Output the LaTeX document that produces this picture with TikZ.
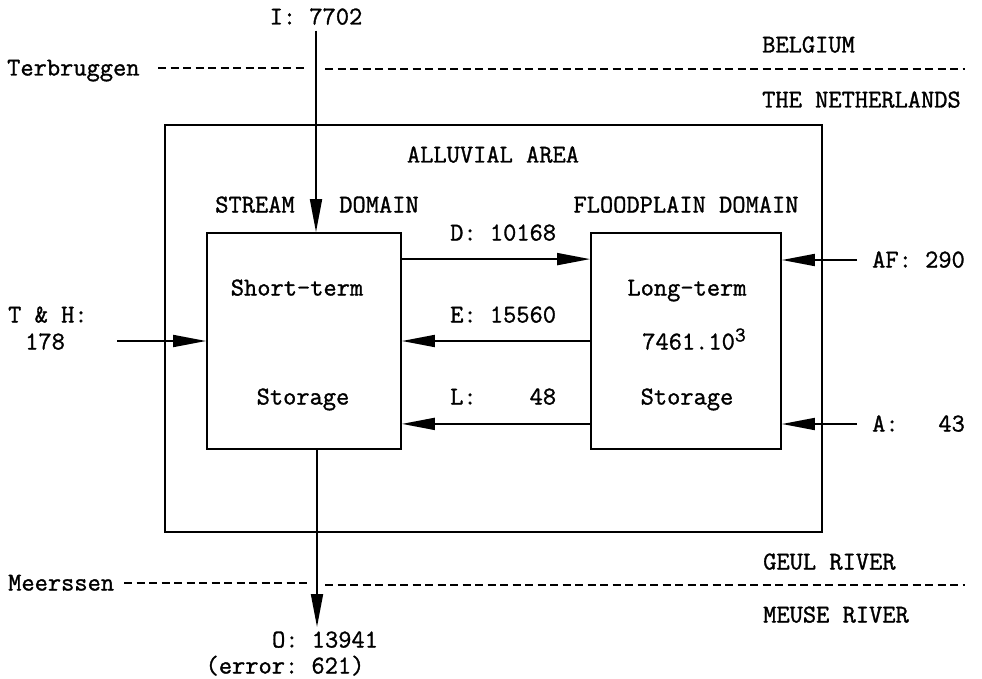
\documentclass[tikz,border=0pt]{standalone}
\usepackage{fontspec}
\setmonofont{Latin Modern Mono}[FakeBold=1.2]
\usetikzlibrary{arrows.meta, positioning, calc}

\begin{document}
\begin{tikzpicture}[x=1pt, y=-1pt,
  font=\ttfamily\fontsize{25.7}{30}\selectfont,
  lbl/.style={inner sep=0pt, text height=15pt, text depth=0pt},
  store/.style={rectangle, draw, line width=1.8pt, minimum width=194pt, minimum height=216pt},
  area/.style={rectangle, draw, line width=1.8pt, minimum width=657pt, minimum height=407pt},
  flow/.style={-{Triangle[length=33pt, width=12pt]}, line width=1.8pt},
  border/.style={dash pattern=on 8pt off 4.5pt, line width=1.5pt}]
  \useasboundingbox (0,0) rectangle (982,679);

  % Boxes
  \node [area] (alluvial) at (493.5,328.5) {};
  \node [store] (stream) at (304,341) {};
  \node [store, minimum width=190pt] (flood) at (686,341) {};

  % Labels
  \node [lbl] (i) at (316,17) {I: 7702};
  \node [lbl, anchor=west] (terb) at (7,68) {Terbruggen};
  \node [lbl, anchor=west] (belgium) at (762,45) {BELGIUM};
  \node [lbl, anchor=west] (nl) at (762,100) {THE NETHERLANDS};
  \node [lbl] (area title) at (493,155) {ALLUVIAL AREA};
  \node [lbl] (stream title) at (255,205) {STREAM};
  \node [lbl] (stream title2) at (379,205) {DOMAIN};
  \node [lbl] (flood title) at (686,205) {FLOODPLAIN DOMAIN};
  \node [lbl] (short) at (297,288) {Short-term};
  \node [lbl] (store s) at (303,397) {Storage};
  \node [lbl] (long) at (687,288) {Long-term};
  \node [lbl] (volume) at (694,342) {7461.10\raisebox{8pt}{\fontsize{21}{21}\selectfont 3}};
  \node [lbl] (store l) at (687,397) {Storage};
  \node [lbl, anchor=west] (d) at (450,233) {D: 10168};
  \node [lbl, anchor=west] (e) at (450,315) {E: 15560};
  \node [lbl, anchor=west] (l) at (450,397) {L:~~~~48};
  \node [lbl, anchor=west] (af) at (872,260) {AF: 290};
  \node [lbl, anchor=west] (a) at (872,424) {A:~~~43};
  \node [lbl, anchor=west] (th) at (8,315) {T \& H:};
  \node [lbl, anchor=west] (th val) at (25,342) {178};
  \node [lbl, anchor=west] (geul) at (763,562) {GEUL RIVER};
  \node [lbl, anchor=west] (meuse) at (763,615) {MEUSE RIVER};
  \node [lbl, anchor=west] (meer) at (8,583) {Meerssen};
  \node [lbl] (o) at (325,640) {O: 13941};
  \node [lbl] (err) at (285,666) {(error: 621)};

  % Free ends
  \coordinate (th in) at (117,341);
  \coordinate (af in) at (857,260);
  \coordinate (a in) at (857,424);
  \coordinate (o end) at (317,627);

  % Borders
  \draw [border] (158,68) -- (307,68);
  \draw [border] (325,69) -- (965,69);
  \draw [border] (124,583) -- (307,583);
  \draw [border] (325,585) -- (965,585);

  % Flows
  \draw [flow, shorten <=6pt] (i.south) -- (i.south |- stream.north);
  \draw [flow] (th in) -- (th in -| stream.west);
  \draw [flow] ($(stream.north east)+(0,27)$) -- ($(flood.north west)+(0,27)$);
  \draw [flow] (flood.west) -- (stream.east);
  \draw [flow] ($(flood.south west)+(0,-26)$) -- ($(stream.south east)+(0,-26)$);
  \draw [flow] (af in) -- (af in -| flood.east);
  \draw [flow] (a in) -- (a in -| flood.east);
  \draw [flow] (o end |- stream.south) -- (o end);
\end{tikzpicture}
\end{document}
